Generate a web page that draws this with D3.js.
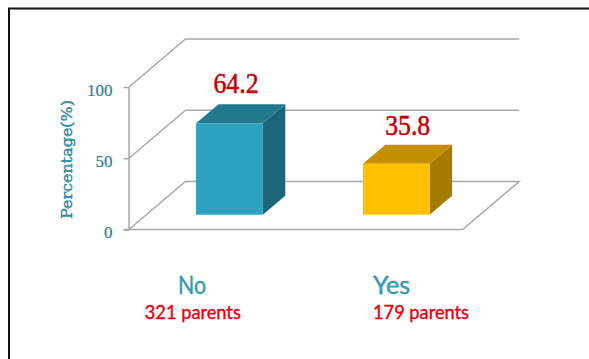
<!DOCTYPE html>
<html><head><meta charset="utf-8">
<style>html,body{margin:0;padding:0;background:#fff}svg{display:block}</style>
<script src="https://cdn.jsdelivr.net/npm/d3@7"></script></head>
<body><svg id="c" width="589" height="359"></svg>
<script>
const categories = ["No", "Yes"];
const values = [64.2, 35.8];
const counts = ["321 parents", "179 parents"];
const yTicks = [0, 50, 100];
const axisTitle = "Percentage(%)";

const frontFill = ["#2ea3bf", "#ffc000"];
const topFill = ["#237a90", "#c49000"];
const sideFill = ["#1d6679", "#a67c00"];
const grid = "#a8a8a8", teal = "#2a8199";

const svg = d3.select("#c");
// frame
svg.append("path").attr("d", "M9,359V8.5H589").attr("fill", "none").attr("stroke", "#111").attr("stroke-width", 2);

const y = d3.scaleLinear().domain([0, 100]).range([229.5, 87]);
const x = d3.scaleBand().domain(categories).range([129, 462.7]).paddingInner(0.6).paddingOuter(0.3);
const depth = {dx: 56.5, dy: -48};
const barBase = {dx: 17, dy: -14.8};
const barDepth = {dx: 22.5, dy: -19};
const [x0, x1] = x.range();

// walls and floor
const g = svg.append("g").attr("fill", "none").attr("stroke", grid).attr("stroke-width", 1.5);
yTicks.forEach(t => {
  g.append("path").attr("d",
    `M${x0},${y(t)}L${x0 + depth.dx},${y(t) + depth.dy}H${x1 + depth.dx}` +
    (t === 0 ? `L${x1},${y(t)}` : ""));
});

// axis
const axis = svg.append("g").attr("transform", `translate(${x0},0)`).call(
  d3.axisLeft(y).tickValues(yTicks).tickSize(5.5).tickPadding(11).tickFormat(d3.format("d")));
axis.selectAll("path,line").attr("stroke", grid).attr("stroke-width", 1.5);
axis.select(".domain").attr("d", `M0,${y(0)}V${y(100)}`);
axis.selectAll("text").attr("font-family", "Liberation Serif").attr("font-size", 17)
  .attr("fill", teal).attr("stroke", teal).attr("stroke-width", 0.2).attr("dy", "0.48em");
svg.append("line").attr("x1", x0 - 5.5).attr("x2", x1).attr("y1", y(0)).attr("y2", y(0))
  .attr("stroke", grid).attr("stroke-width", 1.5);

// bars
const baseline = y(0) + barBase.dy;
const h = v => y(0) - y(v);
const valueX = [236, 407.7], valueY = [93, 135];
categories.forEach((c, i) => {
  const l = x(c) + barBase.dx, r = l + x.bandwidth(), b = baseline, t = baseline - h(values[i]);
  const {dx, dy} = barDepth;
  svg.append("path").attr("fill", sideFill[i]).attr("d", `M${r},${b}V${t}L${r + dx},${t + dy}V${b + dy}Z`);
  svg.append("path").attr("fill", topFill[i]).attr("d", `M${l},${t}H${r}L${r + dx},${t + dy}H${l + dx}Z`);
  svg.append("rect").attr("fill", frontFill[i]).attr("x", l).attr("y", t).attr("width", r - l).attr("height", b - t);
  svg.append("text").text(values[i]).attr("x", valueX[i]).attr("y", valueY[i])
    .attr("text-anchor", "middle").attr("font-family", "Liberation Serif").attr("font-size", 29)
    .attr("textLength", 45).attr("lengthAdjust", "spacingAndGlyphs")
    .attr("fill", "#c00000").attr("stroke", "#c00000").attr("stroke-width", 0.5);
});

// category labels
const labelX = [192, 391.5], labelW = [28, 37], countX = [192.8, 421];
categories.forEach((c, i) => {
  svg.append("text").text(c).attr("x", labelX[i]).attr("y", 294).attr("text-anchor", "middle")
    .attr("font-family", "Lato").attr("font-size", 25).attr("textLength", labelW[i]).attr("lengthAdjust", "spacingAndGlyphs")
    .attr("fill", "#2ea3bf").attr("stroke", "#1d6679").attr("stroke-width", 0.3);
  svg.append("text").text(counts[i]).attr("x", countX[i]).attr("y", 319).attr("text-anchor", "middle")
    .attr("font-family", "Lato").attr("font-size", 20).attr("textLength", 96).attr("lengthAdjust", "spacingAndGlyphs")
    .attr("fill", "#e8000f").attr("stroke", "#e8000f").attr("stroke-width", 0.4);
});

// axis title
svg.append("text").text(axisTitle).attr("transform", "translate(72,159.5) rotate(-90)")
  .attr("text-anchor", "middle").attr("font-family", "DejaVu Serif").attr("font-size", 15)
  .attr("textLength", 119).attr("lengthAdjust", "spacingAndGlyphs")
  .attr("fill", "#2ea3bf").attr("stroke", "#1d6679").attr("stroke-width", 0.35);
</script></body></html>
